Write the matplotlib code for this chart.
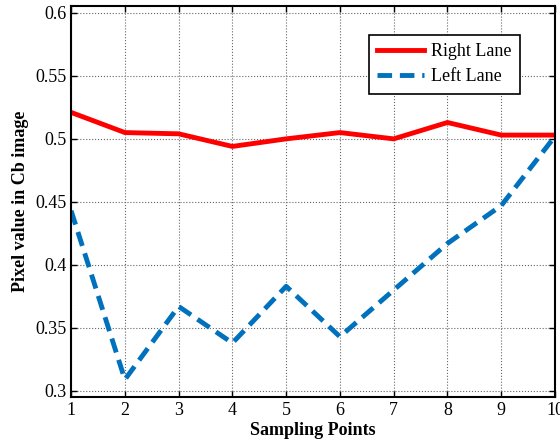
import numpy as np
import matplotlib
matplotlib.use("Agg")
import matplotlib.pyplot as plt

plt.rcParams['font.family'] = ['Liberation Serif', 'DejaVu Serif']

# sampling points and lane values
points = [1, 2, 3, 4, 5, 6, 7, 8, 9, 10]
right_lane = [0.521, 0.505, 0.504, 0.494, 0.500, 0.505, 0.500, 0.513, 0.503, 0.503]
left_lane = [0.443, 0.309, 0.367, 0.338, 0.383, 0.343, 0.380, 0.417, 0.447, 0.502]
yticks = [0.3, 0.35, 0.4, 0.45, 0.5, 0.55, 0.6]
yticklabels = ['0.3', '0.35', '0.4', '0.45', '0.5', '0.55', '0.6']

fig = plt.figure(figsize=(5.6, 4.46), dpi=100)
ax = fig.add_axes([0.127, 0.11, 0.864, 0.877])

ax.plot(points, right_lane, color='#ff0000', lw=3.5, label='Right Lane')
ax.plot(points, left_lane, color='#0072bd', lw=3.5, ls=(0, (3, 1.6)), label='Left Lane')

ax.set_xlim(1, 10)
ax.set_ylim(0.2952, 0.6056)
ax.set_xticks(points)
ax.set_yticks(yticks)
ax.set_yticklabels(yticklabels)
ax.tick_params(direction='in', top=True, right=True, labelsize=13, length=4, width=1)
ax.grid(True, color='#666666', ls=':', lw=0.8)
for s in ax.spines.values():
    s.set_linewidth(1.5)

ax.set_xlabel('Sampling Points', fontsize=13, fontweight='bold', labelpad=2)
ax.set_ylabel('Pixel value in Cb image', fontsize=13, fontweight='bold', labelpad=4)

leg = ax.legend(loc='upper right', bbox_to_anchor=(0.928, 0.925), fontsize=13,
                fancybox=False, framealpha=1, edgecolor='black',
                handlelength=2.6, handletextpad=0.4, borderpad=0.45,
                labelspacing=0.45, borderaxespad=0)
leg.get_frame().set_linewidth(1.2)

fig.savefig('out.png', dpi=100)
